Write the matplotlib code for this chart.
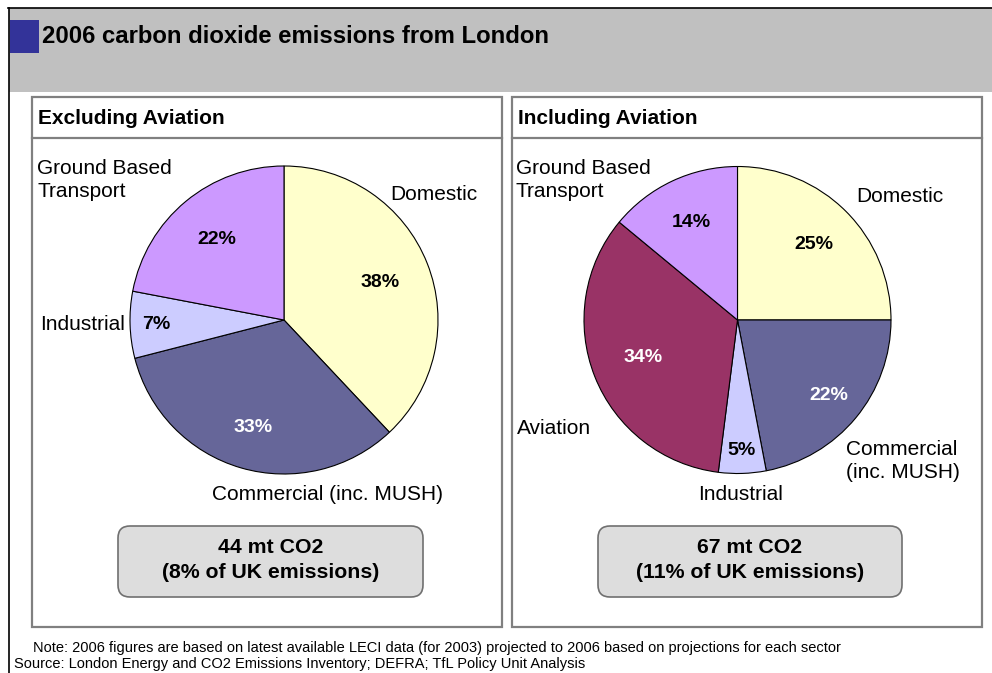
import matplotlib
matplotlib.use("Agg")
import matplotlib.pyplot as plt
import numpy as np
from matplotlib.patches import Rectangle, FancyBboxPatch

plt.rcParams["font.family"] = ["Liberation Sans", "DejaVu Sans"]

W, H = 992, 673

# data
title = "2006 carbon dioxide emissions from London"
panel_titles = ["Excluding Aviation", "Including Aviation"]

excl_sectors = ["Domestic", "Commercial (inc. MUSH)", "Industrial", "Ground Based\nTransport"]
excl_share = [38, 33, 7, 22]

incl_sectors = ["Domestic", "Commercial\n(inc. MUSH)", "Industrial", "Aviation", "Ground Based\nTransport"]
incl_share = [25, 22, 5, 34, 14]

totals = ["44 mt CO2\n(8% of UK emissions)", "67 mt CO2\n(11% of UK emissions)"]
note = ("Note: 2006 figures are based on latest available LECI data (for 2003) "
        "projected to 2006 based on projections for each sector")
source = "Source: London Energy and CO2 Emissions Inventory; DEFRA; TfL Policy Unit Analysis"

# styling
COL = {"Domestic": "#FFFFCC", "Commercial": "#666699", "Industrial": "#CCCCFF",
       "Ground": "#CC99FF", "Aviation": "#993366"}
DARK = {"Commercial", "Aviation"}


def key(name):
    return name.split()[0].split("\n")[0]


fig = plt.figure(figsize=(W / 100, H / 100), dpi=100)
bg = fig.add_axes([0, 0, 1, 1])
bg.set_xlim(0, W)
bg.set_ylim(H, 0)
bg.axis("off")

# header band + frame
bg.add_patch(Rectangle((9, 8), W - 9, 84, facecolor="#C0C0C0", edgecolor="none"))
bg.plot([8, W], [7.5, 7.5], color="black", lw=1.2)
bg.plot([8.5, 8.5], [7.5, H], color="black", lw=1.2)
bg.add_patch(Rectangle((10, 20), 29, 33, facecolor="#333399", edgecolor="none"))
bg.text(42, 36.5, title, fontsize=17.2, fontweight="bold", va="center", ha="left")

# panels
for x0, x1, label in [(32, 502, panel_titles[0]), (512, 982, panel_titles[1])]:
    bg.add_patch(Rectangle((x0, 97), x1 - x0, 530, facecolor="white",
                           edgecolor="#808080", lw=1.6))
    bg.plot([x0, x1], [137.5, 137.5], color="#808080", lw=1.6)
    bg.text(x0 + 6, 118, label, fontsize=15, fontweight="bold", va="center", ha="left")

# total boxes
for (x0, x1), txt in zip([(118, 423), (598, 902)], totals):
    bg.add_patch(FancyBboxPatch((x0 + 12, 526 + 12), x1 - x0 - 24, 71 - 24,
                                boxstyle="round,pad=12", facecolor="#DDDDDD",
                                edgecolor="#707070", lw=1.2))
    bg.text((x0 + x1) / 2, 560, txt, fontsize=15.3, fontweight="bold",
            ha="center", va="center", linespacing=1.4)

bg.text(33, 648, note, fontsize=10.5, va="center", ha="left")
bg.text(14, 664, source, fontsize=10.5, va="center", ha="left")


def draw_pie(cx, cy, r, shares, sectors, pct_dist):
    ax = fig.add_axes([(cx - r) / W, (H - cy - r) / H, 2 * r / W, 2 * r / H])
    wedges, _ = ax.pie(shares, colors=[COL[key(s)] for s in sectors],
                       startangle=90, counterclock=False, radius=1,
                       wedgeprops=dict(edgecolor="black", linewidth=0.8))
    ax.set_xlim(-1, 1)
    ax.set_ylim(-1, 1)
    ax.axis("off")
    for w, v, s, d in zip(wedges, shares, sectors, pct_dist):
        th = np.deg2rad((w.theta1 + w.theta2) / 2)
        ax.text(d * np.cos(th), d * np.sin(th), f"{v}%", fontsize=14,
                fontweight="bold", ha="center", va="center",
                color="white" if key(s) in DARK else "black")


draw_pie(284, 320, 154, excl_share, excl_sectors, [0.67, 0.73, 0.83, 0.68])
draw_pie(737.5, 320, 153.5, incl_share, incl_sectors, [0.70, 0.77, 0.85, 0.66, 0.70])

# sector labels
lab_kw = dict(fontsize=15, va="center", linespacing=1.3)
bg.text(390, 195, excl_sectors[0], ha="left", **lab_kw)
bg.text(212, 494, excl_sectors[1], ha="left", **lab_kw)
bg.text(40, 325, excl_sectors[2], ha="left", **lab_kw)
bg.text(37, 180, excl_sectors[3], ha="left", **lab_kw)

bg.text(856, 196, incl_sectors[0], ha="left", **lab_kw)
bg.text(846, 461, incl_sectors[1], ha="left", **lab_kw)
bg.text(698, 494, incl_sectors[2], ha="left", **lab_kw)
bg.text(517, 428, incl_sectors[3], ha="left", **lab_kw)
bg.text(516, 180, incl_sectors[4], ha="left", **lab_kw)

fig.savefig("out.png", dpi=100)
